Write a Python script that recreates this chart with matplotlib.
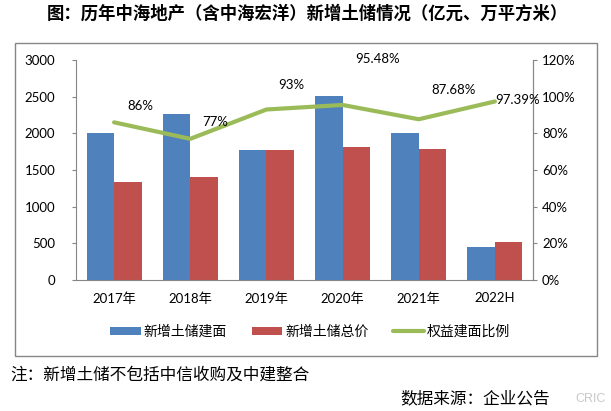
import matplotlib.pyplot as plt
from matplotlib.patches import Rectangle
import numpy as np

plt.rcParams['font.family'] = ['Lato', 'Noto Sans CJK SC', 'DejaVu Sans']

years = ['2017年', '2018年', '2019年', '2020年', '2021年', '2022H']
area = [2000, 2270, 1770, 2510, 2010, 450]     # 新增土储建面
price = [1330, 1410, 1770, 1820, 1780, 520]    # 新增土储总价
ratio = [86, 77, 93, 95.48, 87.68, 97.39]      # 权益建面比例 (%)
ratio_labels = ['86%', '77%', '93%', '95.48%', '87.68%', '97.39%']
label_off = [(19, 12), (18, 12), (18, 18), (25, 33), (25, 21), (16, 1)]  # in points

blue = '#4F81BD'
red = '#C0504D'
green = '#9BBB59'
gray = '#868686'

fig = plt.figure(figsize=(6.11, 4.11), dpi=100)
# outer frame
fig.patches.append(Rectangle((15/611, 1-356/411), (597-15)/611, (356-43)/411,
                             transform=fig.transFigure, fill=False,
                             edgecolor=gray, lw=1.0))

ax = fig.add_axes([76/611, 1-280/411, (533-76)/611, 220/411])
x = np.arange(len(years))
w = 0.36
b1 = ax.bar(x - w/2, area, w, color=blue, label='新增土储建面')
b2 = ax.bar(x + w/2, price, w, color=red, label='新增土储总价')
ax.set_ylim(0, 3000)
ax.set_yticks(range(0, 3001, 500))
ax.set_xlim(-0.5, len(years) - 0.5)
ax.set_xticks(x)
ax.set_xticklabels(years, fontsize=9.5)
ax.tick_params(axis='x', length=0, pad=9)
ax.tick_params(axis='y', labelsize=9.5, length=3, color=gray, pad=12)
ax.spines['top'].set_visible(False)
for s in ['left', 'bottom', 'right']:
    ax.spines[s].set_color(gray)

ax2 = ax.twinx()
ln, = ax2.plot(x, ratio, color=green, lw=3, label='权益建面比例', solid_capstyle='round')
ax2.set_ylim(0, 120)
ax2.set_yticks(range(0, 121, 20))
ax2.set_yticklabels([f'{v}%' for v in range(0, 121, 20)])
ax2.tick_params(axis='y', labelsize=9.5, length=3, color=gray)
ax2.spines['top'].set_visible(False)
ax2.spines['left'].set_visible(False)
ax2.spines['bottom'].set_visible(False)
ax2.spines['right'].set_color(gray)
for xi, yi, t, off in zip(x, ratio, ratio_labels, label_off):
    ax2.annotate(t, (xi, yi), xytext=off, textcoords='offset points',
                 ha='center', va='center', fontsize=9.5)

fig.legend([b1, b2, ln], ['新增土储建面', '新增土储总价', '权益建面比例'],
           loc='center', bbox_to_anchor=(310/611, 1-331/411), ncol=3,
           frameon=False, fontsize=10, handlelength=2.2, handleheight=0.45,
           columnspacing=1.8, handletextpad=0.2)
for h in fig.legends[0].legend_handles[2:]:
    h.set_linewidth(3)

fig.text(307/611, 1-14/411, '图：历年中海地产（含中海宏洋）新增土储情况（亿元、万平方米）',
         ha='center', va='center', fontsize=12.5, fontweight='bold',
         family=['Noto Sans CJK SC'])
fig.text(10/611, 1-375/411, '注：新增土储不包括中信收购及中建整合',
         ha='left', va='center', fontsize=12, family=['Noto Sans CJK SC'])
fig.text(400/611, 1-399/411, '数据来源：企业公告',
         ha='left', va='center', fontsize=12, family=['Noto Sans CJK SC'])
fig.text(606/611, 1-399/411, 'CRIC', ha='right', va='center', fontsize=9,
         color='#c8c8c8', family=['Liberation Sans'])

fig.savefig('out.png', dpi=100)
